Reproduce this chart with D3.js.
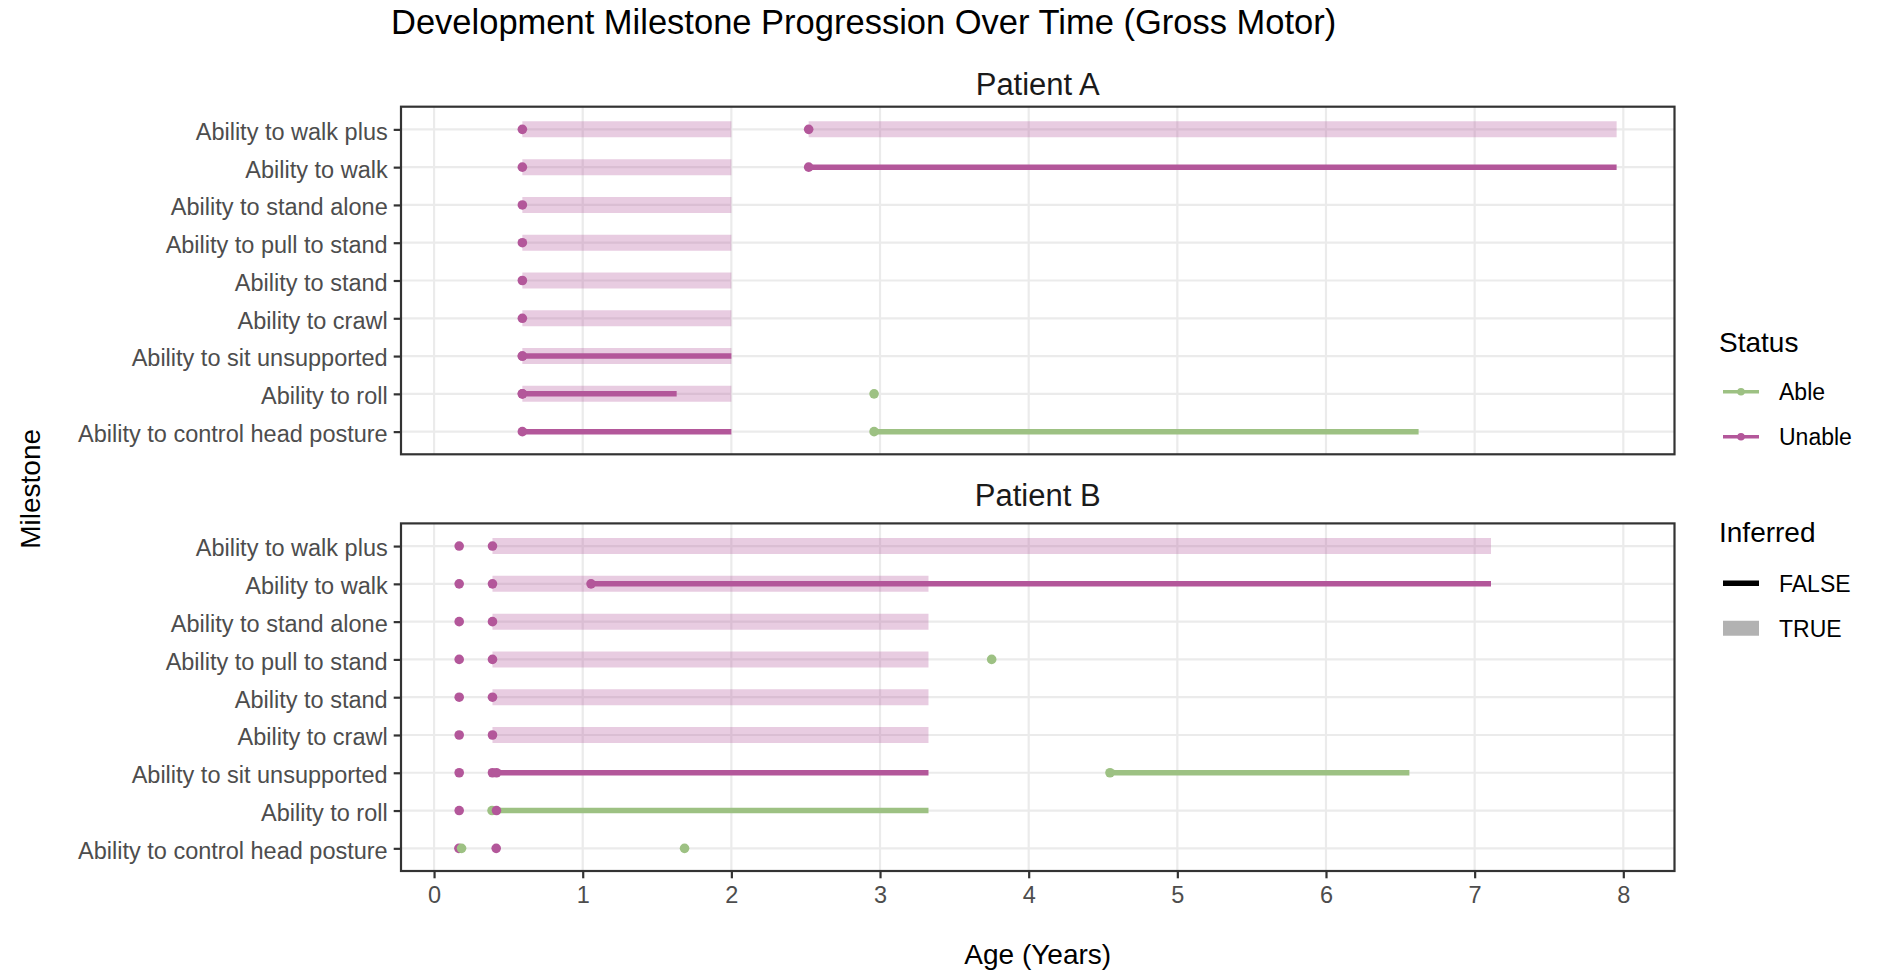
<!DOCTYPE html>
<html>
<head>
<meta charset="utf-8">
<script src="https://cdn.jsdelivr.net/npm/d3@7"></script>
<style>
  body { margin: 0; background: #ffffff; }
  svg { display: block; font-family: "Liberation Sans", Arial, Helvetica, sans-serif; }
</style>
</head>
<body>
<svg id="chart" width="1883" height="970"></svg>
<script>
// Milestones, listed from the bottom row up
const milestones = [
  "Ability to control head posture",
  "Ability to roll",
  "Ability to sit unsupported",
  "Ability to crawl",
  "Ability to stand",
  "Ability to pull to stand",
  "Ability to stand alone",
  "Ability to walk",
  "Ability to walk plus"
];
const patients = ["Patient A", "Patient B"];
const xTicks = [0, 1, 2, 3, 4, 5, 6, 7, 8];
const statusLevels = ["Able", "Unable"];
const inferredLevels = ["FALSE", "TRUE"];

// Observation records: [milestone, start age, end age, status, inferred]
// start === end marks a single assessment with no span
const recordsA = [
  ["Ability to walk plus", 0.594, 2.0, "Unable", true],
  ["Ability to walk plus", 2.52, 7.955, "Unable", true],
  ["Ability to walk", 0.594, 2.0, "Unable", true],
  ["Ability to walk", 2.52, 7.955, "Unable", false],
  ["Ability to stand alone", 0.594, 2.0, "Unable", true],
  ["Ability to pull to stand", 0.594, 2.0, "Unable", true],
  ["Ability to stand", 0.594, 2.0, "Unable", true],
  ["Ability to crawl", 0.594, 2.0, "Unable", true],
  ["Ability to sit unsupported", 0.594, 2.0, "Unable", true],
  ["Ability to sit unsupported", 0.594, 2.0, "Unable", false],
  ["Ability to roll", 0.594, 2.0, "Unable", true],
  ["Ability to roll", 0.594, 1.632, "Unable", false],
  ["Ability to roll", 2.96, 2.96, "Able", false],
  ["Ability to control head posture", 0.594, 2.0, "Unable", false],
  ["Ability to control head posture", 2.96, 6.623, "Able", false]
];
const recordsB = [
  ["Ability to walk plus", 0.169, 0.169, "Unable", false],
  ["Ability to walk plus", 0.393, 7.11, "Unable", true],
  ["Ability to walk", 0.169, 0.169, "Unable", false],
  ["Ability to walk", 0.393, 3.326, "Unable", true],
  ["Ability to walk", 1.056, 7.11, "Unable", false],
  ["Ability to stand alone", 0.169, 0.169, "Unable", false],
  ["Ability to stand alone", 0.393, 3.326, "Unable", true],
  ["Ability to pull to stand", 0.169, 0.169, "Unable", false],
  ["Ability to pull to stand", 0.393, 3.326, "Unable", true],
  ["Ability to pull to stand", 3.751, 3.751, "Able", false],
  ["Ability to stand", 0.169, 0.169, "Unable", false],
  ["Ability to stand", 0.393, 3.326, "Unable", true],
  ["Ability to crawl", 0.169, 0.169, "Unable", false],
  ["Ability to crawl", 0.393, 3.326, "Unable", true],
  ["Ability to sit unsupported", 0.169, 0.169, "Unable", false],
  ["Ability to sit unsupported", 0.393, 0.393, "Unable", false],
  ["Ability to sit unsupported", 0.42, 3.326, "Unable", false],
  ["Ability to sit unsupported", 4.547, 6.561, "Able", false],
  ["Ability to roll", 0.169, 0.169, "Unable", false],
  ["Ability to roll", 0.39, 3.326, "Able", false],
  ["Ability to roll", 0.42, 0.42, "Unable", false],
  ["Ability to control head posture", 0.167, 0.167, "Unable", false],
  ["Ability to control head posture", 0.185, 0.185, "Able", false],
  ["Ability to control head posture", 0.418, 0.418, "Unable", false],
  ["Ability to control head posture", 1.685, 1.685, "Able", false]
];
const panelRecords = [recordsA, recordsB];

const statusColor = d3.scaleOrdinal().domain(statusLevels).range(["#9DC183", "#B3579A"]);

const svg = d3.select("#chart");
const FONT_TICK = 23.5, FONT_AXIS = 28, FONT_STRIP = 31, FONT_TITLE = 34.5;
const INK = "#333333";

const plotLeft = 401, plotRight = 1674.5;
const panelBoxes = [
  { top: 106.7, bottom: 454.3, stripY: 95 },
  { top: 523.4, bottom: 871.0, stripY: 506 }
];

// Shared x scale with 5% expansion on each side of the data range
const allAges = panelRecords.flat().flatMap(r => [r[1], r[2]]);
const [minAge, maxAge] = d3.extent(allAges);
const pad = (maxAge - minAge) * 0.05;
const x = d3.scaleLinear().domain([minAge - pad, maxAge + pad]).range([plotLeft, plotRight]);

// Title
svg.append("text")
  .attr("x", 391).attr("y", 34)
  .attr("font-size", FONT_TITLE).attr("fill", "#000")
  .text("Development Milestone Progression Over Time (Gross Motor)");

panelBoxes.forEach((box, i) => {
  const y = d3.scalePoint().domain(milestones).range([box.bottom, box.top]).padding(0.6);
  const g = svg.append("g");

  // grid
  g.append("g").selectAll("line").data(xTicks).join("line")
    .attr("x1", d => x(d)).attr("x2", d => x(d))
    .attr("y1", box.top).attr("y2", box.bottom)
    .attr("stroke", "#EBEBEB").attr("stroke-width", 2.2);
  g.append("g").selectAll("line").data(milestones).join("line")
    .attr("x1", plotLeft).attr("x2", plotRight)
    .attr("y1", d => y(d)).attr("y2", d => y(d))
    .attr("stroke", "#EBEBEB").attr("stroke-width", 2.2);

  const recs = panelRecords[i];
  const spans = recs.filter(r => r[2] > r[1]);

  // inferred spans as wide translucent bands, observed spans as solid lines
  g.append("g").selectAll("line").data(spans.filter(r => r[4])).join("line")
    .attr("x1", r => x(r[1])).attr("x2", r => x(r[2]))
    .attr("y1", r => y(r[0])).attr("y2", r => y(r[0]))
    .attr("stroke", r => statusColor(r[3])).attr("stroke-opacity", 0.3)
    .attr("stroke-width", 16).attr("stroke-linecap", "butt");
  g.append("g").selectAll("line").data(spans.filter(r => !r[4])).join("line")
    .attr("x1", r => x(r[1])).attr("x2", r => x(r[2]))
    .attr("y1", r => y(r[0])).attr("y2", r => y(r[0]))
    .attr("stroke", r => statusColor(r[3]))
    .attr("stroke-width", 5.5).attr("stroke-linecap", "butt");

  // assessment points at the start of each record
  g.append("g").selectAll("circle").data(recs).join("circle")
    .attr("cx", r => x(r[1])).attr("cy", r => y(r[0]))
    .attr("r", 4.8).attr("fill", r => statusColor(r[3]));

  // panel border
  g.append("rect")
    .attr("x", plotLeft).attr("y", box.top)
    .attr("width", plotRight - plotLeft).attr("height", box.bottom - box.top)
    .attr("fill", "none").attr("stroke", INK).attr("stroke-width", 2.2);

  // y axis
  const yAxis = d3.axisLeft(y).tickSize(7.3).tickPadding(6);
  const ya = g.append("g").attr("transform", `translate(${plotLeft},0)`).call(yAxis);
  ya.select(".domain").remove();
  ya.selectAll(".tick line").attr("stroke", INK).attr("stroke-width", 2.2);
  ya.selectAll(".tick text")
    .attr("font-size", FONT_TICK).attr("fill", "#4D4D4D")
    .attr("font-family", "Liberation Sans, Arial, sans-serif")
    .attr("dy", "0.42em");

  // strip label
  svg.append("text")
    .attr("x", (plotLeft + plotRight) / 2).attr("y", box.stripY)
    .attr("text-anchor", "middle").attr("font-size", FONT_STRIP).attr("fill", "#1A1A1A")
    .text(patients[i]);

  // x axis only under the last panel
  if (i === panelBoxes.length - 1) {
    const xAxis = d3.axisBottom(x).tickValues(xTicks).tickFormat(d3.format("d")).tickSize(7.3).tickPadding(8);
    const xa = g.append("g").attr("transform", `translate(0,${box.bottom})`).call(xAxis);
    xa.select(".domain").remove();
    xa.selectAll(".tick line").attr("stroke", INK).attr("stroke-width", 2.2);
    xa.selectAll(".tick text")
      .attr("font-size", FONT_TICK).attr("fill", "#4D4D4D")
      .attr("font-family", "Liberation Sans, Arial, sans-serif");
  }
});

// axis titles
svg.append("text")
  .attr("x", (plotLeft + plotRight) / 2).attr("y", 963.5)
  .attr("text-anchor", "middle").attr("font-size", FONT_AXIS).attr("fill", "#000")
  .text("Age (Years)");
svg.append("text")
  .attr("transform", `translate(40,${(panelBoxes[0].top + panelBoxes[1].bottom) / 2}) rotate(-90)`)
  .attr("text-anchor", "middle").attr("font-size", FONT_AXIS).attr("fill", "#000")
  .text("Milestone");

// legends
const lg = svg.append("g");
const keyX1 = 1723, keyX2 = 1759, labelX = 1779;
lg.append("text").attr("x", 1719).attr("y", 351.7).attr("font-size", FONT_AXIS).attr("fill", "#000").text("Status");
const statusKeyY = [391.7, 436.7];
statusLevels.forEach((s, k) => {
  const yk = statusKeyY[k];
  lg.append("line").attr("x1", keyX1).attr("x2", keyX2).attr("y1", yk).attr("y2", yk)
    .attr("stroke", statusColor(s)).attr("stroke-width", 3.5);
  lg.append("circle").attr("cx", (keyX1 + keyX2) / 2).attr("cy", yk).attr("r", 3.8).attr("fill", statusColor(s));
  lg.append("text").attr("x", labelX).attr("y", yk + 8.5).attr("font-size", 23).attr("fill", "#000").text(s);
});

lg.append("text").attr("x", 1719).attr("y", 542.3).attr("font-size", FONT_AXIS).attr("fill", "#000").text("Inferred");
const inferredKeyY = [583.3, 628.2];
inferredLevels.forEach((s, k) => {
  const yk = inferredKeyY[k];
  lg.append("line").attr("x1", keyX1).attr("x2", keyX2).attr("y1", yk).attr("y2", yk)
    .attr("stroke", "#000").attr("stroke-opacity", s === "TRUE" ? 0.3 : 1)
    .attr("stroke-width", s === "TRUE" ? 15 : 5.5).attr("stroke-linecap", "butt");
  lg.append("text").attr("x", labelX).attr("y", yk + 8.5).attr("font-size", 23).attr("fill", "#000").text(s);
});
</script>
</body>
</html>
